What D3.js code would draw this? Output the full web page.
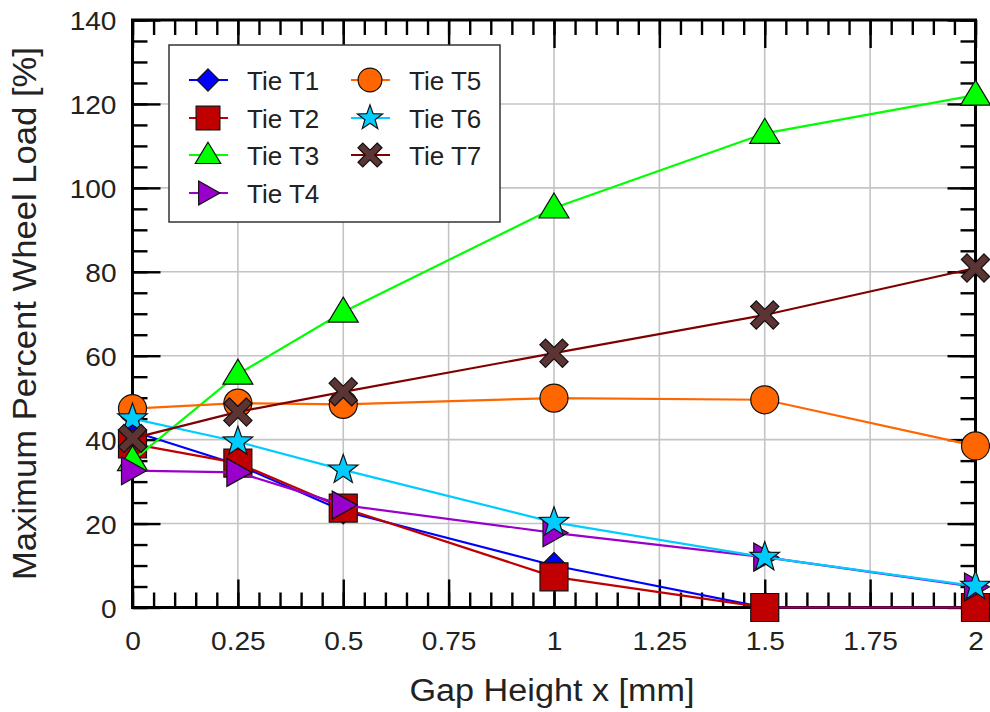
<!DOCTYPE html>
<html>
<head>
<meta charset="utf-8">
<script src="https://cdn.jsdelivr.net/npm/d3@7"></script>
<style>
  html, body { margin: 0; padding: 0; background: #ffffff; }
  svg { display: block; }
</style>
</head>
<body>
<div id="chart"></div>
<script>
// Gap heights (x axis) and the seven tie series.
var gapHeights = [0, 0.25, 0.5, 1, 1.5, 2];
var seriesNames = ["Tie T1", "Tie T2", "Tie T3", "Tie T4", "Tie T5", "Tie T6", "Tie T7"];
var tieT1 = [42, 34, 23, 10, 0, 0];
var tieT2 = [39, 34.4, 23.7, 7.3, 0, 0];
var tieT3 = [35, 55.6, 70.4, 95.2, 113, 122.1];
var tieT4 = [32.6, 32.2, 24.4, 17.8, 12, 4.9];
var tieT5 = [47.4, 48.7, 48.4, 49.9, 49.5, 38.5];
var tieT6 = [45, 39.5, 32.8, 20.3, 12, 5.1];
var tieT7 = [40.3, 46.6, 51.4, 60.6, 69.7, 80.9];
var xTickLabels = ["0", "0.25", "0.5", "0.75", "1", "1.25", "1.5", "1.75", "2"];
var yTickLabels = ["0", "20", "40", "60", "80", "100", "120", "140"];

var allSeries = [tieT1, tieT2, tieT3, tieT4, tieT5, tieT6, tieT7];

var width = 990,
    height = 712;

var plotLeft = 132.5, plotRight = 975.5,      // plot frame edges
    plotTop = 20, plotBottom = 607.5;

var lineColors   = ["#0000ff", "#c00000", "#00ff00", "#9900cc", "#ff6600", "#00ccff", "#800000"],
    markerFills  = ["#0000ff", "#c00000", "#00ff00", "#9900cc", "#ff6600", "#00ccff", "#5c3434"],
    markerTypes  = ["diamond", "square", "triUp", "triRight", "circle", "star", "cross"];

var font = "'Liberation Sans', Arial, Helvetica, sans-serif";

var x = d3.scaleLinear().domain([0, 2]).range([plotLeft, plotRight]);
var y = d3.scaleLinear().domain([0, 140]).range([plotBottom, plotTop]);

var svg = d3.select("#chart").append("svg")
            .attr("width", width)
            .attr("height", height);

// Grid lines at the major ticks.
var grid = svg.append("g");
grid.selectAll("line.gx")
    .data(xTickLabels.map(Number).filter(function(d) { return d > 0 && d < 2; }))
    .enter().append("line")
    .attr("x1", function(d) { return x(d); }).attr("x2", function(d) { return x(d); })
    .attr("y1", plotTop).attr("y2", plotBottom)
    .attr("stroke", "#c4c4c4").attr("stroke-width", 1.6);
grid.selectAll("line.gy")
    .data(yTickLabels.map(Number).filter(function(d) { return d > 0 && d < 140; }))
    .enter().append("line")
    .attr("y1", function(d) { return y(d); }).attr("y2", function(d) { return y(d); })
    .attr("x1", plotLeft).attr("x2", plotRight)
    .attr("stroke", "#c4c4c4").attr("stroke-width", 1.6);

// Axes: minor ticks first, then the major ones with labels. Ticks point inward.
var xMinor = d3.range(0, 2.0001, 0.05),
    yMinor = d3.range(0, 140.001, 5),
    xMajor = xTickLabels.map(Number),
    yMajor = yTickLabels.map(Number);

function styleAxis(g) {
  g.select(".domain").remove();
  g.selectAll(".tick line").attr("stroke", "#000").attr("stroke-width", 2.4);
}

svg.append("g").attr("transform", "translate(0," + plotBottom + ")")
   .call(d3.axisBottom(x).tickValues(xMinor).tickSize(-15).tickFormat(""))
   .call(styleAxis);
svg.append("g").attr("transform", "translate(0," + plotTop + ")")
   .call(d3.axisTop(x).tickValues(xMinor).tickSize(-15).tickFormat(""))
   .call(styleAxis);
svg.append("g").attr("transform", "translate(" + plotLeft + ",0)")
   .call(d3.axisLeft(y).tickValues(yMinor).tickSize(-15).tickFormat(""))
   .call(styleAxis);
svg.append("g").attr("transform", "translate(" + plotRight + ",0)")
   .call(d3.axisRight(y).tickValues(yMinor).tickSize(-15).tickFormat(""))
   .call(styleAxis);

var xAxis = svg.append("g").attr("transform", "translate(0," + plotBottom + ")")
   .call(d3.axisBottom(x).tickValues(xMajor).tickSize(-28).tickPadding(24)
           .tickFormat(function(d, i) { return xTickLabels[i]; }))
   .call(styleAxis);
svg.append("g").attr("transform", "translate(0," + plotTop + ")")
   .call(d3.axisTop(x).tickValues(xMajor).tickSize(-28).tickFormat(""))
   .call(styleAxis);
var yAxis = svg.append("g").attr("transform", "translate(" + plotLeft + ",0)")
   .call(d3.axisLeft(y).tickValues(yMajor).tickSize(-28).tickPadding(16)
           .tickFormat(function(d, i) { return yTickLabels[i]; }))
   .call(styleAxis);
svg.append("g").attr("transform", "translate(" + plotRight + ",0)")
   .call(d3.axisRight(y).tickValues(yMajor).tickSize(-28).tickFormat(""))
   .call(styleAxis);

[xAxis, yAxis].forEach(function(a) {
  a.selectAll("text")
   .attr("font-family", font)
   .attr("font-size", 26)
   .attr("fill", "#222");
});
yAxis.selectAll("text").attr("dy", "0.37em");

// Slightly wider glyphs, as in the reference.
function widen(sel, k) {
  sel.each(function() {
    var len = this.getComputedTextLength();
    d3.select(this).attr("textLength", len * k).attr("lengthAdjust", "spacingAndGlyphs");
  });
}
widen(xAxis.selectAll("text"), 1.08);
widen(yAxis.selectAll("text"), 1.08);

// Frame.
svg.append("rect")
   .attr("x", plotLeft).attr("y", plotTop)
   .attr("width", plotRight - plotLeft).attr("height", plotBottom - plotTop)
   .attr("fill", "none").attr("stroke", "#000").attr("stroke-width", 3);

// Marker shapes, centred on (0,0); s scales the size.
function markerPath(type, s) {
  var p;
  switch (type) {
    case "diamond":
      p = [[0, -13], [13, 0], [0, 13], [-13, 0]]; break;
    case "square":
      p = [[-14, -14], [14, -14], [14, 14], [-14, 14]]; break;
    case "triUp":
      p = [[0, -15], [15, 10], [-15, 10]]; break;
    case "triRight":
      p = [[-11, -14], [14, 0], [-11, 14]]; break;
    case "star":
      p = [];
      for (var i = 0; i < 10; i++) {
        var r = i % 2 ? 6.3 : 15.5, a = -Math.PI / 2 + i * Math.PI / 5;
        p.push([r * Math.cos(a), r * Math.sin(a)]);
      }
      break;
    case "cross":
      var L = 16, w = 4;
      var arm = [[-w, -L], [w, -L], [w, -w], [L, -w], [L, w], [w, w], [w, L], [-w, L], [-w, w], [-L, w], [-L, -w], [-w, -w]];
      var c = Math.cos(Math.PI / 4);
      p = arm.map(function(q) { return [(q[0] - q[1]) * c, (q[0] + q[1]) * c]; });
      break;
  }
  return "M" + p.map(function(q) { return (q[0] * s).toFixed(2) + "," + (q[1] * s).toFixed(2); }).join("L") + "Z";
}

function drawMarker(g, type, fill, s) {
  if (type === "circle") {
    g.append("circle").attr("r", 14 * s)
     .attr("fill", fill).attr("stroke", "#111").attr("stroke-width", 1.2);
  } else {
    g.append("path").attr("d", markerPath(type, s))
     .attr("fill", fill).attr("stroke", "#111").attr("stroke-width", 1.2)
     .attr("stroke-linejoin", "miter");
  }
}

// Series: line then markers, one series after another.
var line = d3.line()
             .x(function(d) { return x(d[0]); })
             .y(function(d) { return y(d[1]); });

allSeries.forEach(function(values, k) {
  var pts = gapHeights.map(function(g, i) { return [g, values[i]]; });
  svg.append("path")
     .attr("d", line(pts))
     .attr("fill", "none")
     .attr("stroke", lineColors[k])
     .attr("stroke-width", 2.2);
  pts.forEach(function(pt) {
    var g = svg.append("g").attr("transform", "translate(" + x(pt[0]) + "," + y(pt[1]) + ")");
    drawMarker(g, markerTypes[k], markerFills[k], 1);
  });
});

// Legend.
var legend = svg.append("g");
legend.append("rect")
      .attr("x", 169).attr("y", 45).attr("width", 331).attr("height", 177)
      .attr("fill", "#fff").attr("stroke", "#333").attr("stroke-width", 1.5);

var legendRows = [80, 118, 155, 193],
    legendCols = [208, 370];

seriesNames.forEach(function(name, k) {
  var col = k < 4 ? 0 : 1,
      row = k < 4 ? k : k - 4,
      cx = legendCols[col],
      cy = legendRows[row];
  legend.append("line")
        .attr("x1", cx - 19).attr("x2", cx + 20)
        .attr("y1", cy).attr("y2", cy)
        .attr("stroke", lineColors[k]).attr("stroke-width", 2.2);
  var g = legend.append("g").attr("transform", "translate(" + cx + "," + cy + ")");
  drawMarker(g, markerTypes[k], markerFills[k], 0.85);
  legend.append("text")
        .attr("x", cx + 39).attr("y", cy + 9.5)
        .attr("font-family", font).attr("font-size", 26)
        .attr("fill", "#222")
        .text(name);
});

// Axis titles.
svg.append("text")
   .attr("x", 552).attr("y", 701)
   .attr("text-anchor", "middle")
   .attr("font-family", font).attr("font-size", 31)
   .attr("fill", "#222")
   .attr("textLength", 285).attr("lengthAdjust", "spacingAndGlyphs")
   .text("Gap Height x [mm]");

svg.append("text")
   .attr("transform", "translate(36,313.5) rotate(-90)")
   .attr("text-anchor", "middle")
   .attr("font-family", font).attr("font-size", 33)
   .attr("fill", "#222")
   .attr("textLength", 533).attr("lengthAdjust", "spacingAndGlyphs")
   .text("Maximum Percent Wheel Load [%]");
</script>
</body>
</html>
